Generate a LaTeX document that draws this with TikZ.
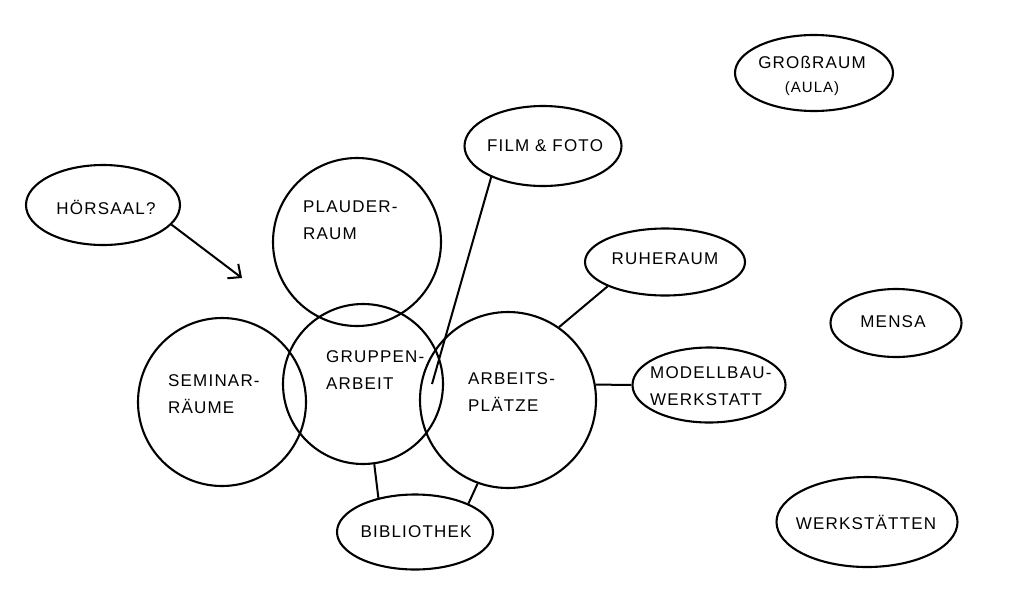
\documentclass[tikz,border=0pt]{standalone}
\usepackage{fontspec}
\setmainfont{Liberation Sans}
\newfontfamily\handfont[LetterSpace=7]{Liberation Sans}
\usetikzlibrary{shapes.geometric,arrows.meta}
\begin{document}
\begin{tikzpicture}[x=1pt,y=-1pt,
  every node/.style={font=\handfont\fontsize{17}{27}\selectfont},
  room/.style={circle,draw,line width=2.1pt,inner sep=0pt},
  blob/.style={ellipse,draw,line width=2.1pt,inner sep=0pt},
  link/.style={line width=2pt},
  lbl/.style={align=left,inner sep=0pt,anchor=west},
  ctr/.style={align=center,inner sep=0pt}]
\useasboundingbox[fill=white] (0,0) rectangle (1024,600);
% circles
\node[room,minimum size=168pt] (plauder) at (357,242) {};
\node[room,minimum size=160pt] (gruppen) at (363,384) {};
\node[room,minimum size=168pt] (seminar) at (222,402) {};
\node[room,minimum size=176pt] (arbeits) at (508,400) {};
\node[lbl] (tplauder) at (303,220) {PLAUDER-\\RAUM};
\node[lbl] (tgruppen) at (326,370) {GRUPPEN-\\ARBEIT};
\node[lbl] (tseminar) at (168,394) {SEMINAR-\\RÄUME};
\node[lbl] (tarbeits) at (468,392) {ARBEITS-\\PLÄTZE};
% ellipses
\node[blob,minimum width=156pt,minimum height=75pt] (biblio) at (415,532) {};
\node[ctr] (tbiblio) at (416,532) {BIBLIOTHEK};
\node[blob,minimum width=157pt,minimum height=80pt] (film) at (543,146) {};
\node[ctr] (tfilm) at (545,146) {FILM \& FOTO};
\node[blob,minimum width=160pt,minimum height=67pt] (ruhe) at (665,262) {};
\node[ctr] (truhe) at (665,259) {RUHERAUM};
\node[blob,minimum width=153pt,minimum height=75pt] (modell) at (709,385) {};
\node[lbl] (tmodell) at (650,386) {MODELLBAU-\\WERKSTATT};
\node[blob,minimum width=131pt,minimum height=68pt] (mensa) at (896,323) {};
\node[ctr] (tmensa) at (893,322) {MENSA};
\node[blob,minimum width=181pt,minimum height=90pt] (werk) at (867,522) {};
\node[ctr] (twerk) at (866,522) {WERKSTÄTTEN};
\node[blob,minimum width=158pt,minimum height=76pt] (gross) at (814,73) {};
\node[ctr] (tgross) at (812,76) {GROßRAUM\\[-3pt]{\fontsize{15}{18}\selectfont (AULA)}};
\node[blob,minimum width=154pt,minimum height=80pt] (hoer) at (103,205) {};
\node[ctr] (thoer) at (106,207) {HÖRSAAL?};
% connectors
\coordinate (arrowtip) at (242,278);
\coordinate (filmend) at (432,384);
\draw[link,-{Straight Barb[length=10pt,width=18pt]}] (hoer.-16) -- (arrowtip);
\draw[link] (film.-149) -- (filmend);
\draw[link] (arbeits.55) -- (ruhe.-157);
\draw[link] (arbeits.10) -- (modell.west);
\draw[link] (gruppen.-82) -- (biblio.137);
\draw[link] (arbeits.-110) -- (biblio.28);
\end{tikzpicture}
\end{document}
